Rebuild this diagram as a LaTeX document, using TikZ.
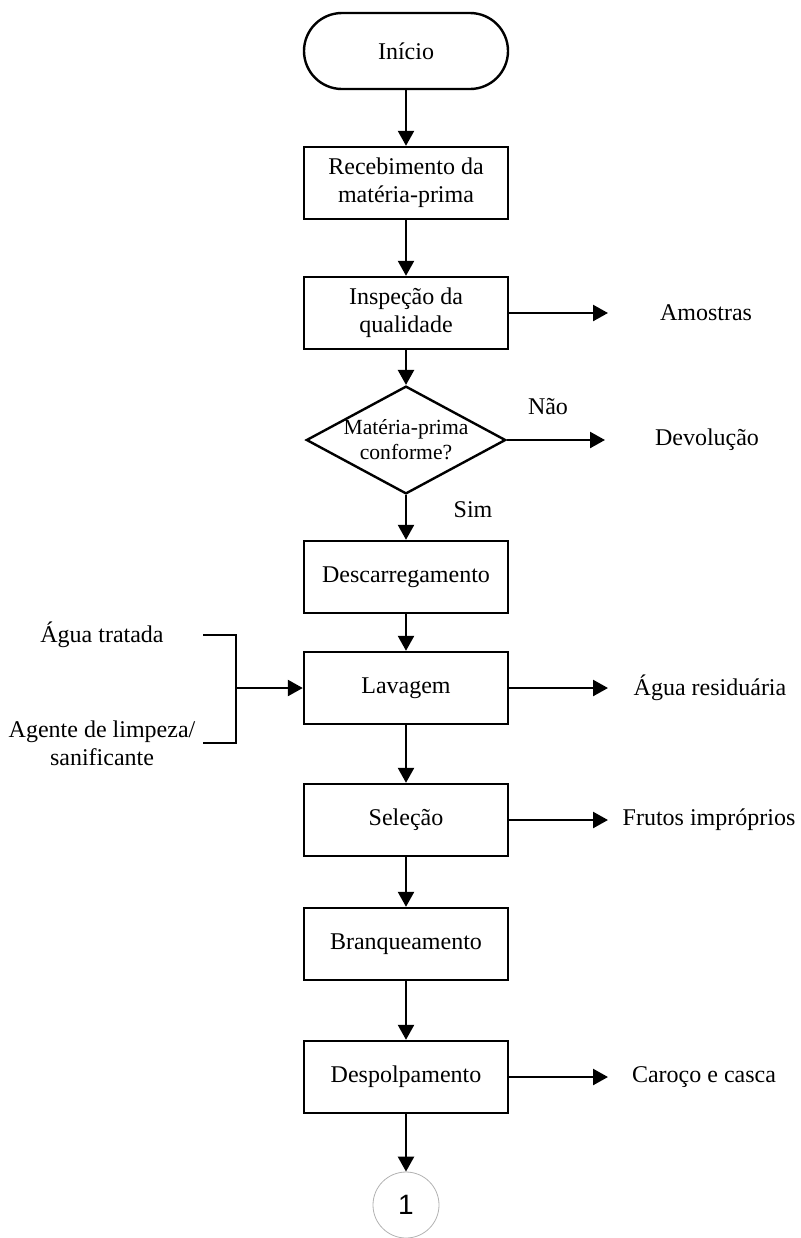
\documentclass[tikz,border=0pt]{standalone}
\usepackage{fontspec}
\setmainfont{Liberation Serif}
\newfontfamily\digitfont{Liberation Sans}
\usetikzlibrary{shapes.geometric,arrows.meta}
\begin{document}
\begin{tikzpicture}[x=0.5pt,y=-0.5pt,
  every node/.style={font=\fontsize{12}{13.8}\selectfont},
  procbox/.style={draw,line width=1.2pt,minimum width=102pt,minimum height=36pt,align=center,inner sep=2pt},
  termbox/.style={draw,line width=1.2pt,rounded corners=19pt,minimum width=102pt,minimum height=38pt},
  decbox/.style={draw,line width=1.2pt,diamond,aspect=1.85,minimum width=98pt,minimum height=53pt,inner sep=0pt,align=center,font=\fontsize{10.8}{12.5}\selectfont},
  connbox/.style={draw=gray!60,line width=0.4pt,circle,minimum size=33pt,inner sep=0pt,font=\digitfont\fontsize{14}{16}\selectfont},
  outtext/.style={align=center},
  flow/.style={line width=1.2pt,-{Triangle[length=7.5pt,width=8pt]}},
  bracket/.style={line width=1.2pt}]
\useasboundingbox (0,0) rectangle (800,1238);
% main chain
\node[termbox] (start) at (406,51) {Início};
\node[procbox] (receb) at (406,183) {Recebimento da\\matéria-prima};
\node[procbox] (insp) at (406,313) {Inspeção da\\qualidade};
\node[decbox] (decide) at (406,440) {Matéria-prima\\conforme?};
\node[procbox] (descarga) at (406,577) {Descarregamento};
\node[procbox] (lavagem) at (406,688) {Lavagem};
\node[procbox] (selecao) at (406,820) {Seleção};
\node[procbox] (branq) at (406,944) {Branqueamento};
\node[procbox] (despolp) at (406,1077) {Despolpamento};
\node[connbox] (conn) at (406,1205) {1};
% outputs
\node[outtext] (amostras) at (706,313) {Amostras};
\node[outtext] (devol) at (707,440) {Devolução};
\node[outtext] (aguares) at (710,688) {Água residuária};
\node[outtext] (frutos) at (709,820) {Frutos impróprios};
\node[outtext] (caroco) at (704,1077) {Caroço e casca};
\node (nao) at (548,407) {Não};
\node (sim) at (473,510) {Sim};
% inputs
\node[outtext] (agua) at (102,635) {Água tratada};
\node[outtext] (agente) at (102,743) {Agente de limpeza/\\sanificante};
\coordinate (brTop) at (236,635);
\coordinate (brBot) at (236,743);
\coordinate (brMid) at (236,688);
% free ends of the side arrows
\coordinate (amostrasEnd) at (608,313);
\coordinate (devolEnd) at (605,440);
\coordinate (aguaresEnd) at (608,688);
\coordinate (frutosEnd) at (608,820);
\coordinate (carocoEnd) at (608,1077);
% connectors
\foreach \a/\b in {start/receb,receb/insp,insp/decide,decide/descarga,descarga/lavagem,lavagem/selecao,selecao/branq,branq/despolp,despolp/conn}
  \draw[flow] (\a) -- (\b);
\draw[flow] (insp.east) -- (amostrasEnd);
\draw[flow] (decide.east) -- (devolEnd);
\draw[flow] (lavagem.east) -- (aguaresEnd);
\draw[flow] (selecao.east) -- (frutosEnd);
\draw[flow] (despolp.east) -- (carocoEnd);
\draw[bracket] (203,635) -- (brTop) -- (brBot) -- (203,743);
\draw[flow] (brMid) -- (lavagem.west);
\end{tikzpicture}
\end{document}
